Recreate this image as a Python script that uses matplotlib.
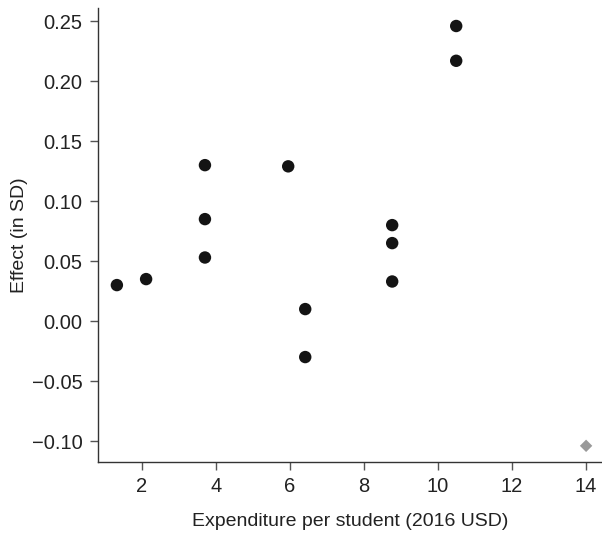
import matplotlib
matplotlib.use("Agg")
import matplotlib.pyplot as plt

# Study-level effects vs expenditure per student
expenditure = [1.32, 2.11, 3.70, 3.70, 3.70, 5.95, 6.41, 6.41, 8.76, 8.76, 8.76, 10.49, 10.49]
effect = [0.030, 0.035, 0.130, 0.085, 0.053, 0.129, 0.010, -0.030, 0.080, 0.065, 0.033, 0.246, 0.217]

# Separate outlier shown as grey diamond
outlier_x = [14.0]
outlier_y = [-0.104]

x_ticks = [2, 4, 6, 8, 10, 12, 14]
y_ticks = [-0.10, -0.05, 0.00, 0.05, 0.10, 0.15, 0.20, 0.25]

plt.rcParams["font.family"] = ["Liberation Sans", "DejaVu Sans"]

fig = plt.figure(figsize=(6.02, 5.34), dpi=100)
ax = fig.add_axes([0.1628, 0.1348, 0.8372, 0.8502])

ax.scatter(expenditure, effect, s=80, color="#141414", edgecolors="none", zorder=3)
ax.scatter(outlier_x, outlier_y, s=40, marker="D", color="#999999", edgecolors="none", zorder=3)

ax.set_xlim(0.81, 14.43)
ax.set_ylim(-0.1175, 0.261)
ax.set_xticks(x_ticks)
ax.set_yticks(y_ticks)
ax.set_xticklabels([str(t) for t in x_ticks])
ax.set_yticklabels(["\u22120.10", "\u22120.05", "0.00", "0.05", "0.10", "0.15", "0.20", "0.25"])

for side in ["top", "right"]:
    ax.spines[side].set_visible(False)
for side in ["left", "bottom"]:
    ax.spines[side].set_color("#333333")
    ax.spines[side].set_linewidth(1.0)

ax.tick_params(axis="both", direction="out", length=6, width=1.0, color="#555555",
               labelsize=14.5, labelcolor="#222222", pad=5)

ax.set_xlabel("Expenditure per student (2016 USD)", fontsize=14, color="#222222", labelpad=12)
ax.set_ylabel("Effect (in SD)", fontsize=14, color="#222222", labelpad=3)

fig.savefig("out.png", dpi=100)
